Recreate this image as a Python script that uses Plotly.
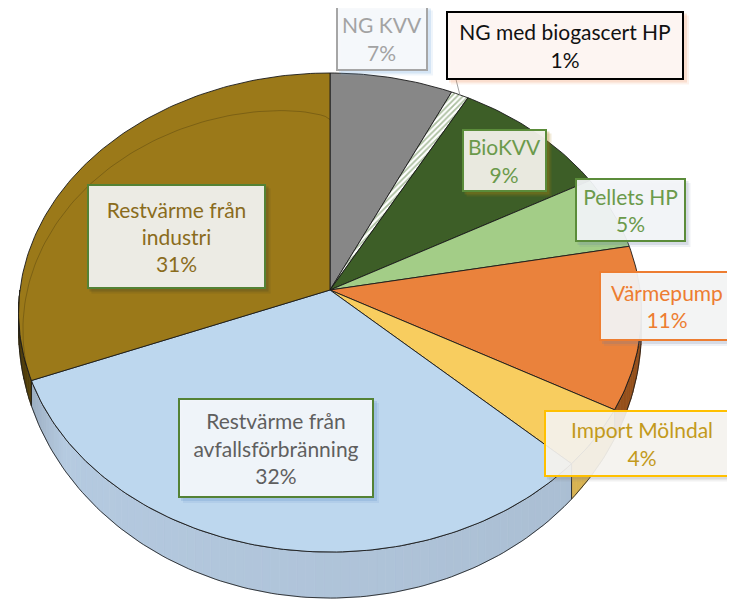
import numpy as np
import plotly.graph_objects as go

# ---------------- data ----------------
labels = ["NG KVV", "NG med biogascert HP", "BioKVV", "Pellets HP", "Värmepump",
          "Import Mölndal", "Restvärme från avfallsförbränning", "Restvärme från industri"]
values = [7, 1, 9, 5, 11, 4, 32, 31]
label_lines = ["NG KVV", "NG med biogascert HP", "BioKVV", "Pellets HP", "Värmepump",
               "Import Mölndal", "Restvärme från<br>avfallsförbränning", "Restvärme från<br>industri"]

# ---------------- styles ----------------
top_colors = ["#878787", "#ffffff", "#3d5e27", "#a3cd87", "#ea823c", "#f8cd5f", "#bdd7ee", "#9b7919"]
text_colors = ["#a3a3a3", "#111111", "#6b9a4b", "#6b9a4b", "#ed7d31", "#c39a1c", "#5f5f5f", "#8a6c1c"]
box_border = ["#a6a6a6", "#000000", "#5b8c3a", "#5b8c3a", "#ed7d31", "#ffc000", "#548235", "#548235"]
box_bg = ["rgba(247,249,251,0.95)", "rgba(253,246,243,0.97)", "rgba(240,240,234,0.95)",
          "rgba(244,246,248,0.92)", "rgba(245,245,245,0.93)", "rgba(247,245,241,0.9)",
          "rgba(243,246,250,0.96)", "rgba(239,239,235,0.97)"]
shadow_col = ["rgba(120,170,220,0.35)", "rgba(240,150,100,0.35)", "rgba(170,130,20,0.45)",
              "rgba(100,120,160,0.3)", "rgba(100,120,160,0.3)", "rgba(120,120,120,0.3)",
              "rgba(90,140,200,0.35)", "rgba(60,60,40,0.35)"]
# label box centres / sizes (layout, in page pixels)
box_pos = [(382, 38, 92, 65), (565, 45, 238, 69), (504, 160, 85, 63), (630, 210, 111, 64),
           (667, 306, 136, 70), (642, 443, 196, 67), (276, 448, 196, 100), (176, 236, 179, 105)]

W, H = 735, 600
OFF = 8                   # page body margin compensation
CX, CY = 330.0, 290.0     # apex of pie on page
A, B = 310.0, 237.4       # projected radii
P = 0.094                 # perspective factor
DEPTH = 41.7              # side height at the front


def proj(theta, side=False, r=1.0):
    t = np.radians(theta)
    u, v = r * np.cos(t), r * np.sin(t)
    d = 1 + P * v
    h = DEPTH * (0.35 + 0.65 * np.clip(-v, 0, 1)) if side else 0.0
    return CX + A * u / d, CY - (B * v - h) / d


def shade(hex_col, f):
    hex_col = hex_col.lstrip("#")
    rgb = [int(hex_col[i:i + 2], 16) for i in (0, 2, 4)]
    return "rgb(%d,%d,%d)" % tuple(max(0, min(255, int(c * f))) for c in rgb)


def side_factor(theta):
    t = (theta + 180.0) / 180.0
    if t < 0.2:
        return 0.5 + (0.96 - 0.5) * (t / 0.2) ** 0.7
    return 0.96 - 0.08 * (t - 0.2) / 0.8


side_base = ["#878787", "#e0e0e0", "#3d5e27", "#a3cd87", "#a85a20", "#f0c75c", "#bdd3ea", "#6a520f"]

total = float(sum(values))
cum = np.concatenate([[0], np.cumsum(values)])
starts = [90 - 360 * cum[i] / total for i in range(len(values))]
ends = [90 - 360 * cum[i + 1] / total for i in range(len(values))]

fig = go.Figure()

# ---- side walls (front half only) ----
for i in range(len(values)):
    hi = min(starts[i], 0.0)
    lo = max(ends[i], -180.0)
    if hi <= lo:
        continue
    n = max(2, int((hi - lo) / 1.5) + 1)
    edges = np.linspace(hi, lo, n + 1)
    for k in range(n):
        a0, a1 = edges[k], edges[k + 1]
        th = np.linspace(a0, a1, 4)
        xt, yt = proj(th)
        xb, yb = proj(th[::-1], side=True)
        xs = np.concatenate([xt, xb, xt[:1]])
        ys = np.concatenate([yt, yb, yt[:1]])
        c = shade(side_base[i], side_factor((a0 + a1) / 2))
        fig.add_trace(go.Scatter(x=xs, y=ys, mode="lines", fill="toself", fillcolor=c,
                                 line=dict(width=0.8, color=c),
                                 hoverinfo="skip", showlegend=False))
    th = np.linspace(hi, lo, max(3, int(hi - lo) + 2))
    xt, yt = proj(th)
    xb, yb = proj(th[::-1], side=True)
    xs = np.concatenate([xt, xb, xt[:1]])
    ys = np.concatenate([yt, yb, yt[:1]])
    fig.add_trace(go.Scatter(x=xs, y=ys, mode="lines", line=dict(width=1, color="rgba(30,30,30,0.85)"),
                             hoverinfo="skip", showlegend=False))

# ---- top faces ----
for i in range(len(values)):
    th = np.linspace(starts[i], ends[i], max(3, int(abs(starts[i] - ends[i])) + 2))
    xa, ya = proj(th)
    xs = np.concatenate([[CX], xa, [CX]])
    ys = np.concatenate([[CY], ya, [CY]])
    kw = {}
    if i == 1:
        kw["fillpattern"] = dict(shape="/", fgcolor="#587f40", bgcolor="#ffffff", size=4, solidity=0.45)
    fig.add_trace(go.Scatter(x=xs, y=ys, mode="lines", fill="toself", fillcolor=top_colors[i],
                             line=dict(width=1, color="rgba(25,25,25,0.9)"),
                             hoverinfo="skip", showlegend=False, **kw))

# ---- subtle bevel line on the top face ----
th = np.linspace(90, 198, 90)
rr = 0.77 + 0.23 * np.clip((th - 90) / 108, 0, 1) ** 0.6
t = np.radians(th)
u, v = rr * np.cos(t), rr * np.sin(t)
d = 1 + P * v
fig.add_trace(go.Scatter(x=CX + A * u / d, y=CY - B * v / d, mode="lines",
                         line=dict(width=1, color="rgba(0,0,0,0.2)"),
                         hoverinfo="skip", showlegend=False))

# ---- leader line for the small slice ----
mid = (starts[1] + ends[1]) / 2
mx, my = proj(mid)
bx, by, bw, bh = box_pos[1]
fig.add_trace(go.Scatter(x=[mx, bx - bw / 2 + 10], y=[my, by + bh / 2], mode="lines",
                         line=dict(width=1, color="#a0a0a0"), hoverinfo="skip", showlegend=False))

# ---- labels ----
shapes = []
annotations = []
for i in range(len(values)):
    x, y, bw, bh = box_pos[i]
    for off, alpha in ((5, 0.35), (3, 0.6)):
        shapes.append(dict(type="rect", xref="x", yref="y",
                           x0=x - bw / 2 + off, x1=x + bw / 2 + off,
                           y0=y - bh / 2 + off, y1=y + bh / 2 + off,
                           line=dict(width=0), fillcolor=shadow_col[i], opacity=alpha, layer="above"))
    pct = int(round(values[i] / total * 100))
    annotations.append(dict(
        x=x, y=y, xref="x", yref="y", showarrow=False,
        text="%s<br>%d%%" % (label_lines[i], pct),
        font=dict(family="Lato, 'Open Sans', sans-serif", size=21, color=text_colors[i]),
        align="center", xanchor="center", yanchor="middle",
        width=bw - 4, height=bh - 4, borderpad=0, borderwidth=2,
        bgcolor=box_bg[i], bordercolor=box_border[i]))

fig.update_layout(
    width=W, height=H, autosize=False,
    margin=dict(l=0, r=0, t=0, b=0),
    paper_bgcolor="white", plot_bgcolor="white",
    xaxis=dict(range=[OFF, W + OFF], visible=False, fixedrange=True),
    yaxis=dict(range=[H + OFF, OFF], visible=False, fixedrange=True),
    shapes=shapes, annotations=annotations, showlegend=False,
)

fig.write_html("out.html")
